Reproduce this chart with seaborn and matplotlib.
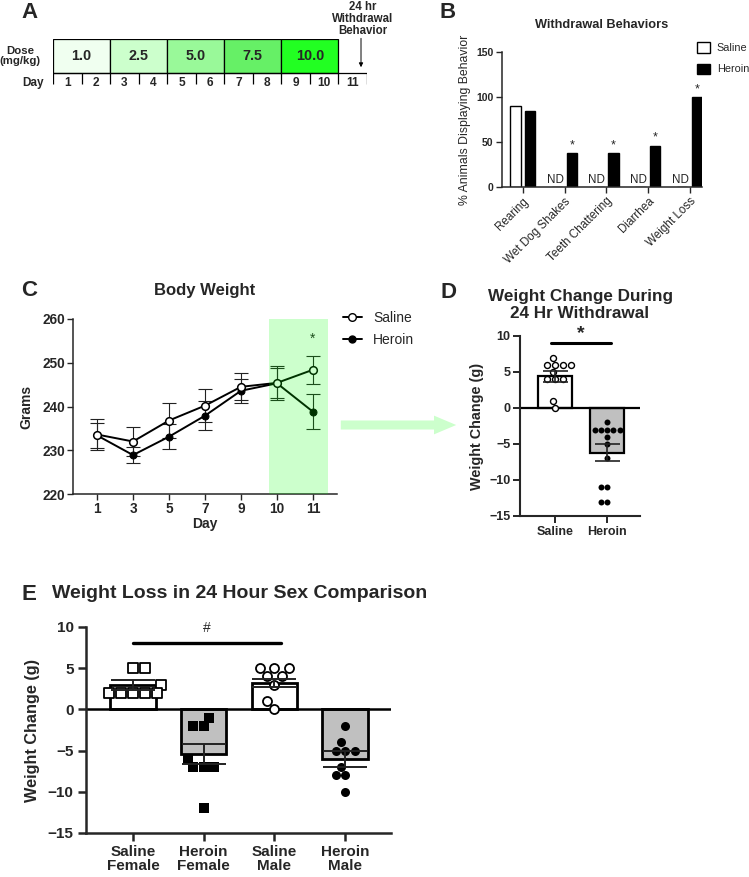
import numpy as np
import pandas as pd
import matplotlib.pyplot as plt
import seaborn as sns
from matplotlib.patches import Patch, FancyArrowPatch
from matplotlib.lines import Line2D

# ---------------- data ----------------
# A: dosing schedule
dose_labels = ['1.0', '2.5', '5.0', '7.5', '10.0']
dose_start_day = [1, 3, 5, 7, 9]
dose_colors = ['#f0fff0', '#ccffcc', '#99f999', '#66f066', '#22ff22']
schedule_days = list(range(1, 12))

# B: withdrawal behaviors (% animals)
behaviors = ['Rearing', 'Wet Dog Shakes', 'Teeth Chattering', 'Diarrhea', 'Weight Loss']
saline_pct = [90, 0, 0, 0, 0]
heroin_pct = [85, 38, 38, 46, 100]
saline_nd = [False, True, True, True, True]
heroin_sig = [False, True, True, True, True]

# C: body weight (g)
days = [1, 3, 5, 7, 9, 10, 11]
saline_wt = [233.6, 232.0, 236.8, 240.2, 244.5, 245.4, 248.4]
saline_wt_sem = [3.5, 3.4, 3.9, 3.7, 3.1, 3.9, 3.2]
heroin_wt = [233.4, 228.9, 233.1, 237.9, 243.6, 245.3, 238.8]
heroin_wt_sem = [2.9, 1.8, 2.8, 3.3, 2.8, 3.4, 4.0]

# D: weight change during 24 hr withdrawal
d_groups = ['Saline', 'Heroin']
d_means = [4.4, -6.2]
d_sems = [0.8, 1.2]
d_saline_pts = [7, 6, 6, 6, 6, 5, 4, 4, 4, 1, 0]
d_heroin_pts = [-2, -3, -3, -3, -3, -3, -4, -5, -7, -11, -11, -13, -13]

# E: sex comparison
e_groups = ['Saline\nFemale', 'Heroin\nFemale', 'Saline\nMale', 'Heroin\nMale']
e_means = [3.0, -5.4, 3.2, -6.0]
e_sems = [0.6, 1.2, 0.5, 1.0]
e_saline_f = [5, 5, 3, 2, 2, 2, 2, 2]
e_heroin_f = [-1, -2, -2, -6, -7, -7, -7, -12]
e_saline_m = [5, 5, 5, 4, 4, 3, 1, 0]
e_heroin_m = [-2, -4, -5, -5, -5, -7, -8, -8, -10]

# ---------------- figure ----------------
sns.set_style('ticks')
plt.rcParams['font.family'] = ['Liberation Sans', 'DejaVu Sans']

W, H = 749, 877
fig = plt.figure(figsize=(W / 100, H / 100), dpi=100)


def px_axes(left, top, right, bottom):
    return fig.add_axes([left / W, 1 - bottom / H, (right - left) / W, (bottom - top) / H])


def px_text(x, y, s, **kw):
    return fig.text(x / W, 1 - y / H, s, **kw)


def bold_ticks(ax, size, axis='both'):
    if axis in ('x', 'both'):
        for t in ax.get_xticklabels():
            t.set_fontweight('bold'); t.set_fontsize(size)
    if axis in ('y', 'both'):
        for t in ax.get_yticklabels():
            t.set_fontweight('bold'); t.set_fontsize(size)


# panel letters
for letter, (x, y) in zip('ABCDE', [(29, 13), (448, 12), (29, 290), (449, 292), (29, 594)]):
    px_text(x, y, letter, fontsize=16, fontweight='bold', ha='center', va='center')

# ---------- A ----------
ax_a = px_axes(53, 39, 367, 85)
ax_a.set_xlim(0.5, 11.5)
ax_a.set_ylim(-0.35, 1)
ax_a.bar([d - 0.5 for d in dose_start_day], 1, width=2, align='edge', bottom=0,
         color=dose_colors, edgecolor='black', linewidth=0.9)
for start, lab in zip(dose_start_day, dose_labels):
    ax_a.text(start + 0.5, 0.5, lab, ha='center', va='center', fontsize=10.4, fontweight='bold')
ax_a.hlines(0, 0.5, 11.5, color='black', lw=0.9)
ax_a.vlines([d - 0.5 for d in schedule_days] + [schedule_days[-1] + 0.5], -0.33, 0,
            color='black', lw=0.9)
for d in schedule_days:
    ax_a.text(d, -0.3, str(d), ha='center', va='center', fontsize=8.6, fontweight='bold')
ax_a.annotate('', xy=(11.29, 0.09), xytext=(11.29, 1.1),
              arrowprops=dict(arrowstyle='-|>', lw=0.7, color='black', mutation_scale=6))
ax_a.axis('off')
px_text(20, 56, 'Dose\n(mg/kg)', ha='center', va='center', fontsize=8.2, fontweight='bold', linespacing=1.1)
px_text(33, 83, 'Day', ha='center', va='center', fontsize=8.5, fontweight='bold')
px_text(363, 19, '24 hr\nWithdrawal\nBehavior', ha='center', va='center', fontsize=8.3,
        fontweight='bold', linespacing=1.0)

# ---------- B ----------
ax_b = px_axes(502, 52, 702, 187)
b_df = pd.DataFrame({'behavior': behaviors * 2,
                     'group': ['Saline'] * len(behaviors) + ['Heroin'] * len(behaviors),
                     'pct': saline_pct + heroin_pct})
sns.barplot(data=b_df, x='behavior', y='pct', hue='group', order=behaviors,
            hue_order=['Saline', 'Heroin'], palette={'Saline': 'white', 'Heroin': 'black'},
            edgecolor='black', linewidth=1.0, width=0.7, gap=0.3, saturation=1,
            legend=False, ax=ax_b)
off = 0.7 / 4
for i, (nd, sig, hv) in enumerate(zip(saline_nd, heroin_sig, heroin_pct)):
    if nd:
        ax_b.text(i - off - 0.05, 1, 'ND', ha='center', va='bottom', fontsize=8.4)
    if sig:
        ax_b.text(i + off, hv + 2, '*', ha='center', va='bottom', fontsize=9)
ax_b.set_xlim(-0.5, 4.3)
ax_b.set_ylim(0, 150)
ax_b.set_yticks([0, 50, 100, 150])
ax_b.set_xticks(range(len(behaviors)))
ax_b.set_xticklabels(behaviors, rotation=45, ha='right', rotation_mode='anchor', fontsize=8.4)
bold_ticks(ax_b, 7.5, 'y')
ax_b.set_xlabel('')
ax_b.set_ylabel('% Animals Displaying Behavior', fontsize=8.8)
ax_b.set_title('Withdrawal Behaviors', fontsize=9.2, fontweight='bold', pad=17)
ax_b.tick_params(width=1, length=4, pad=2)
sns.despine(ax=ax_b)
for s in ax_b.spines.values():
    s.set_linewidth(1.1)
fig.legend(handles=[Patch(facecolor='white', edgecolor='black', lw=1, label='Saline'),
                    Patch(facecolor='black', edgecolor='black', lw=1, label='Heroin')],
           loc='upper left', bbox_to_anchor=(693 / W, 1 - 38 / H), frameon=False,
           fontsize=7.8, handlelength=1.2, handleheight=1.1, handletextpad=0.6,
           labelspacing=0.95, borderaxespad=0)

# ---------- C ----------
ax_c = px_axes(73, 319, 337, 494)
pos = np.arange(len(days))
ax_c.errorbar(pos, saline_wt, yerr=saline_wt_sem, fmt='none', ecolor='#222222',
              elinewidth=0.8, capsize=5, capthick=0.8, zorder=2)
ax_c.errorbar(pos, heroin_wt, yerr=heroin_wt_sem, fmt='none', ecolor='#222222',
              elinewidth=0.8, capsize=5, capthick=0.8, zorder=2)
sns.lineplot(x=pos, y=heroin_wt, color='black', marker='o', markersize=5, markerfacecolor='black',
             markeredgecolor='black', linewidth=1.4, ax=ax_c, zorder=3)
sns.lineplot(x=pos, y=saline_wt, color='black', marker='o', markersize=5.5, markerfacecolor='white',
             markeredgecolor='black', markeredgewidth=1.1, linewidth=1.4, ax=ax_c, zorder=3)
ax_c.axvspan(days.index(10) - 0.22, days.index(11) + 0.42, color='#00ff00', alpha=0.2, lw=0, zorder=5)
ax_c.text(days.index(11), 253.8, '*', ha='center', va='bottom', fontsize=10)
ax_c.set_xlim(-0.667, 6.667)
ax_c.set_ylim(220, 260)
ax_c.set_yticks([220, 230, 240, 250, 260])
ax_c.set_xticks(pos)
ax_c.set_xticklabels(days)
bold_ticks(ax_c, 9.8)
ax_c.tick_params(width=1, length=4, pad=2)
ax_c.set_ylabel('Grams', fontsize=10, fontweight='bold')
ax_c.yaxis.set_label_coords(-0.15, 0.5)
ax_c.set_xlabel('Day', fontsize=10, fontweight='bold')
ax_c.xaxis.set_label_coords(0.5, -0.13)
ax_c.set_title('Body Weight', fontsize=12, fontweight='bold', pad=17)
sns.despine(ax=ax_c)
for s in ax_c.spines.values():
    s.set_linewidth(1.1)
ax_c.legend(handles=[Line2D([], [], color='black', lw=1.4, marker='o', ms=5.5, mfc='white', label='Saline'),
                     Line2D([], [], color='black', lw=1.4, marker='o', ms=5, mfc='black', label='Heroin')],
            loc='upper left', bbox_to_anchor=(337 / W, 1 - 305 / H), bbox_transform=fig.transFigure,
            frameon=False, fontsize=10, handlelength=1.4, handletextpad=0.8, labelspacing=0.6,
            borderaxespad=0)

# arrow from C to D
fig.add_artist(FancyArrowPatch((338 / W, 1 - 425 / H), (459 / W, 1 - 425 / H),
                               transform=fig.transFigure, color='#ccffcc', lw=0,
                               arrowstyle='simple,head_length=1.6,head_width=1.35,tail_width=0.65',
                               mutation_scale=10))

# ---------- D ----------
ax_d = px_axes(520, 336, 640, 516)
sns.barplot(x=d_groups, y=d_means, hue=d_groups, palette=['white', '#c0c0c0'], saturation=1,
            edgecolor='black', linewidth=1.6, width=0.65, legend=False, ax=ax_d)
ax_d.axhline(0, color='black', lw=1.6, zorder=2)
sns.swarmplot(x=['Saline'] * len(d_saline_pts), y=d_saline_pts, order=d_groups, color='white',
              edgecolor='black', linewidth=1.0, size=4.3, zorder=3, ax=ax_d)
sns.swarmplot(x=['Heroin'] * len(d_heroin_pts), y=d_heroin_pts, order=d_groups, color='black',
              size=4.3, zorder=3, ax=ax_d)
ax_d.errorbar(range(len(d_groups)), d_means, yerr=d_sems, fmt='none', ecolor='#222222',
              elinewidth=1.2, capsize=9, capthick=1.2, zorder=4)
ax_d.plot([-0.08, 1.08], [9, 9], color='black', lw=2.2, clip_on=False)
ax_d.text(0.5, 9.2, '*', ha='center', va='bottom', fontsize=14, fontweight='bold')
ax_d.set_xlim(-0.673, 1.63)
ax_d.set_ylim(-15, 10)
ax_d.set_yticks([-15, -10, -5, 0, 5, 10])
ax_d.set_xticks(range(len(d_groups)))
ax_d.set_xticklabels(d_groups)
bold_ticks(ax_d, 9)
ax_d.tick_params(width=1.4, length=5, pad=2)
ax_d.set_xlabel('')
ax_d.set_ylabel('Weight Change (g)', fontsize=10.4, fontweight='bold')
ax_d.yaxis.set_label_coords(-0.3, 0.5)
ax_d.set_title('Weight Change During\n24 Hr Withdrawal', fontsize=12.3, fontweight='bold',
               pad=13, linespacing=1.15)
sns.despine(ax=ax_d)
for s in ax_d.spines.values():
    s.set_linewidth(1.5)

# ---------- E ----------
ax_e = px_axes(86, 627, 391, 833)
sns.barplot(x=e_groups, y=e_means, hue=e_groups, palette=['white', '#c0c0c0', 'white', '#c0c0c0'],
            saturation=1, edgecolor='black', linewidth=2.0, width=0.64, legend=False, ax=ax_e)
ax_e.axhline(0, color='black', lw=1.8, zorder=2)
sns.swarmplot(x=[e_groups[0]] * len(e_saline_f), y=e_saline_f, order=e_groups, marker='s',
              color='white', edgecolor='black', linewidth=1.3, size=7, zorder=3, ax=ax_e)
sns.swarmplot(x=[e_groups[1]] * len(e_heroin_f), y=e_heroin_f, order=e_groups, marker='s',
              color='black', size=7, zorder=3, ax=ax_e)
sns.swarmplot(x=[e_groups[2]] * len(e_saline_m), y=e_saline_m, order=e_groups, marker='o',
              color='white', edgecolor='black', linewidth=1.3, size=6.5, zorder=3, ax=ax_e)
sns.swarmplot(x=[e_groups[3]] * len(e_heroin_m), y=e_heroin_m, order=e_groups, marker='o',
              color='black', size=6.5, zorder=3, ax=ax_e)
ax_e.errorbar(range(len(e_groups)), e_means, yerr=e_sems, fmt='none', ecolor='#222222',
              elinewidth=1.4, capsize=16, capthick=1.4, zorder=4)
ax_e.plot([0, 2.1], [8, 8], color='black', lw=2.4, clip_on=False)
ax_e.text(1.05, 9.9, '#', ha='center', va='center', fontsize=10)
ax_e.set_xlim(-0.665, 3.65)
ax_e.set_ylim(-15, 10)
ax_e.set_yticks([-15, -10, -5, 0, 5, 10])
ax_e.set_xticks(range(len(e_groups)))
ax_e.set_xticklabels(e_groups, linespacing=1.0)
bold_ticks(ax_e, 11)
ax_e.tick_params(width=1.8, length=6, pad=3)
ax_e.set_xlabel('')
ax_e.set_ylabel('Weight Change (g)', fontsize=11.7, fontweight='bold')
ax_e.yaxis.set_label_coords(-0.15, 0.5)
sns.despine(ax=ax_e)
for s in ax_e.spines.values():
    s.set_linewidth(1.8)
px_text(52, 594, 'Weight Loss in 24 Hour Sex Comparison', ha='left', va='center',
        fontsize=14, fontweight='bold')

fig.savefig('out.png', dpi=100)
